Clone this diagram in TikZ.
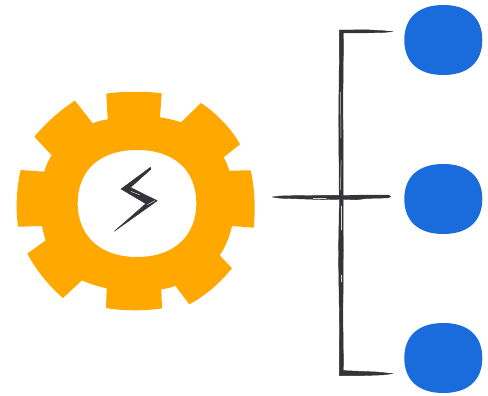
\documentclass[tikz,border=0pt]{standalone}
\usetikzlibrary{calc}
\definecolor{gearorange}{HTML}{FFA800}
\definecolor{blobblue}{HTML}{1A6BDC}
\definecolor{ink}{HTML}{333438}
\tikzset{
  gearfill/.style={fill=gearorange,draw=none},
  blobfill/.style={fill=blobblue,draw=none},
  inkfill/.style={fill=ink,draw=ink,line width=0.4pt,line join=round},
  slit/.style={draw=white,line width=0.5pt,line cap=round,opacity=0.8},
  blob/.pic={
    \path[blobfill] (-39,0) .. controls (-39,-22.5) and (-24.5,-35) .. (0,-35)
      .. controls (24.5,-35) and (39,-22.5) .. (39,0)
      .. controls (39,22.5) and (24.5,35) .. (0,35)
      .. controls (-24.5,35) and (-39,22.5) .. (-39,0) -- cycle;
  }
}
\begin{document}
\begin{tikzpicture}[x=1pt,y=-1pt]
\useasboundingbox (0,0) rectangle (488,396);
% gear with a hole
\path[gearfill,even odd rule]
  (106.3,93.7) .. controls (120,91.2) and (148,91.2) .. (161.7,93.3)
  -- (160,117.3) .. controls (167,118.3) and (174,120) .. (181,122.3)
  -- (201,103) .. controls (216,113) and (231,128) .. (240,144.3)
  -- (223.7,157.3) .. controls (226,161.5) and (228,166) .. (229.3,170.7)
  -- (250.7,170.3) .. controls (255,190) and (255.5,210) .. (253.7,227.7)
  -- (232,226) .. controls (229.5,237) and (225.5,247) .. (219.7,255.3)
  -- (232,268.3) .. controls (220,283) and (205,296) .. (189.3,304.3)
  -- (175.3,285.7) .. controls (171,287.5) and (166,288.8) .. (161.3,289.3)
  -- (162,308.3) .. controls (145,311) and (122,311) .. (106,308)
  -- (106.7,288.3) .. controls (98,286.5) and (90,284) .. (82,280.3)
  -- (63,298) .. controls (49,286) and (36,270) .. (27.3,253.7)
  -- (45.7,240.3) .. controls (44,235.5) and (43,231) .. (42,226)
  -- (18,226.7) .. controls (15.5,208) and (16.5,188) .. (20.7,170)
  -- (44.3,171.7) .. controls (46,165.5) and (48.5,160) .. (51.7,155.3)
  -- (34.3,136.7) .. controls (45,124) and (60,110) .. (75,100.7)
  -- (92.7,123.3) .. controls (97,121.5) and (102,120.3) .. (107.7,119.3)
  -- cycle
  (77.7,203.3) .. controls (77.7,170) and (100,150) .. (137,150)
  .. controls (174,150) and (196.3,170) .. (196.3,203.3)
  .. controls (196.3,236) and (174,257) .. (137,257)
  .. controls (100,257) and (77.7,236) .. (77.7,203.3) -- cycle;
% blobs
\coordinate (blobA) at (443.3,40);
\coordinate (blobB) at (443.3,199);
\coordinate (blobC) at (443.3,358);
\pic at (blobA) {blob};
\pic at (blobB) {blob};
\pic at (blobC) {blob};
% connectors, drawn as rough tapered strokes
\coordinate (stemL) at (272.3,197);
\coordinate (stemR) at (390.7,196.6);
\coordinate (busT) at (339.3,30);
\coordinate (busB) at (339.3,375.6);
\coordinate (armT) at (392.7,31.6);
\coordinate (armB) at (392.7,373.6);
% stem
\path[inkfill] (stemL) -- ($(stemL)+(8,-1)$) -- ($(stemL)+(25,-1.4)$) -- ($(stemL)+(55,-1.6)$)
  -- ($(stemL)+(85,-1.8)$) -- ($(stemL)+(108,-2)$) -- ($(stemR)+(-2,-1.4)$)
  -- (stemR) -- ($(stemR)+(-3,1.3)$) -- ($(stemL)+(95,1.4)$) -- ($(stemL)+(84,2.8)$) -- ($(stemL)+(70,2.2)$)
  -- ($(stemL)+(50,2.6)$) -- ($(stemL)+(26,1.8)$) -- ($(stemL)+(8,1.2)$) -- cycle;
% bus with the two arms
\path[inkfill] (busT) -- ($(armT)+(-24,-1.7)$) -- ($(armT)+(-10,-0.9)$) -- (armT)
  -- ($(armT)+(-12,1.1)$) -- ($(busT)+(4.2,3)$)
  -- ($(busT)+(3.6,70)$) -- ($(busT)+(3.8,110)$) -- ($(busT)+(3.8,167)$)
  -- ($(busT)+(4,220)$) -- ($(busT)+(3.6,290)$) -- ($(busB)+(4.2,-5)$)
  -- ($(armB)+(-16,-1.6)$) -- (armB) -- ($(armB)+(-10,1.3)$)
  -- ($(armB)+(-30,2)$) -- (busB)
  -- ($(busB)+(0.2,-50)$) -- ($(busB)+(-0.8,-122)$)
  -- ($(busB)+(0,-170)$) -- ($(busT)+(-0.6,90)$) -- ($(busT)+(0,30)$) -- cycle;
\draw[slit] ($(busT)+(1.4,62)$) -- ($(busT)+(1.5,108)$);
\draw[slit] ($(busT)+(1.8,130)$) -- ($(busT)+(1.2,160)$);
\draw[slit] ($(busT)+(2.2,176)$) -- ($(busT)+(2.2,200)$);
\draw[slit] ($(busT)+(2,245)$) -- ($(busT)+(2,252)$);
\draw[slit] ($(stemL)+(41,1)$) -- ($(stemL)+(54,1)$);
% bolt
\coordinate (boltA) at (150.4,167.3);
\coordinate (boltB) at (121,189);
\coordinate (boltC) at (157.3,200.7);
\coordinate (boltD) at (114.3,231.3);
\path[inkfill] (boltA) -- (boltB) -- ($(boltC)+(-11.5,3)$) -- (boltD) -- (boltC)
  -- ($(boltB)+(9.5,-1.5)$) -- ($(boltA)+(0.6,1.8)$) -- cycle;
\draw[slit] ($(boltB)+(10,2.4)$) -- ($(boltB)+(19,6)$);
\draw[slit] ($(boltC)+(-2.5,0)$) -- ($(boltC)+(-10,4)$);
\end{tikzpicture}
\end{document}
